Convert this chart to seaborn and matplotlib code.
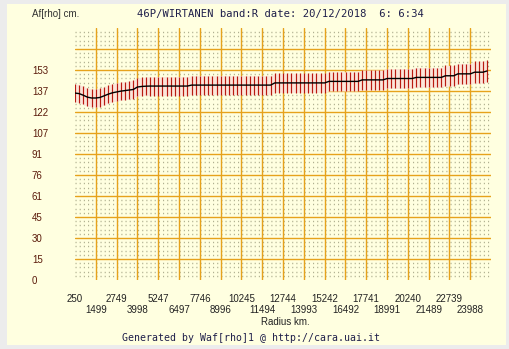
import numpy as np
import matplotlib
matplotlib.use('Agg')
import matplotlib.pyplot as plt
import seaborn as sns
from matplotlib.patches import Rectangle

# profilo Af[rho] (100 punti, passo 250 km)
radius = np.arange(250, 25001, 250)
af_rho = [136.2, 135.8, 134.6, 133.2, 132.6, 132.6, 133.0, 134.2, 135.4, 136.4,
          137.0, 137.6, 138.0, 138.4, 138.8, 140.6, 141.0, 141.2, 141.3, 141.3,
          141.3, 141.3, 141.3, 141.3, 141.3, 141.3, 141.3, 141.3, 142.0, 142.0,
          142.0, 142.0, 142.0, 142.0, 142.0, 142.0, 142.0, 142.0, 142.0, 142.0,
          142.0, 142.0, 142.0, 142.0, 142.0, 142.0, 142.0, 142.0, 143.6, 143.6,
          143.6, 143.6, 143.6, 143.6, 143.6, 143.6, 143.6, 143.6, 143.6, 143.6,
          143.6, 144.7, 144.7, 144.7, 144.7, 144.7, 144.7, 144.7, 144.7, 145.8,
          145.8, 145.8, 145.8, 145.8, 145.8, 146.8, 146.8, 146.8, 146.8, 146.8,
          146.8, 146.8, 147.6, 147.6, 147.6, 147.6, 147.6, 147.6, 147.6, 148.8,
          148.8, 148.8, 150.2, 150.2, 150.2, 150.2, 151.4, 151.4, 151.4, 152.3]
af_err = [6.6, 6.6, 6.6, 6.6, 6.6, 6.6, 6.6, 6.6, 6.6, 6.6,
          6.6, 6.6, 6.6, 6.6, 6.6, 6.6, 6.6, 6.6, 6.9, 6.9,
          6.9, 6.9, 6.9, 6.9, 6.9, 6.9, 6.9, 6.9, 6.9, 6.9,
          6.9, 6.9, 6.9, 6.9, 6.9, 6.9, 6.9, 6.9, 6.9, 6.9,
          6.9, 6.9, 6.9, 6.9, 6.9, 6.9, 6.9, 6.9, 7.0, 7.0,
          7.0, 7.0, 7.0, 7.0, 7.0, 7.0, 7.0, 7.0, 7.0, 7.0,
          7.0, 7.0, 7.0, 7.0, 7.0, 7.0, 7.0, 7.0, 7.0, 7.2,
          7.2, 7.2, 7.2, 7.2, 7.2, 7.2, 7.2, 7.2, 7.2, 7.2,
          7.2, 7.2, 7.2, 7.2, 7.2, 7.2, 7.2, 7.2, 7.2, 7.5,
          7.5, 7.5, 7.5, 7.5, 7.5, 7.5, 8.0, 8.0, 8.0, 8.0]

x_ticks = [250, 1499, 2749, 3998, 5247, 6497, 7746, 8996, 10245, 11494,
           12744, 13993, 15242, 16492, 17741, 18991, 20240, 21489, 22739, 23988]
y_ticks = [0, 15.3, 30.6, 45.9, 61.2, 76.5, 91.8, 107.1, 122.4, 137.7, 153.0, 168.3]
y_labels = ['0', '15', '30', '45', '61', '76', '91', '107', '122', '137', '153', '']

sns.set_style('white')
plt.rcParams['font.family'] = ['Liberation Sans', 'DejaVu Sans']

yellow = '#FFFFE0'
gold = '#E6A21C'

fig = plt.figure(figsize=(5.09, 3.49), dpi=100, facecolor='#ECECEC')
fig.patches.append(Rectangle((7 / 509, 4 / 349), 499 / 509, 341 / 349,
                             transform=fig.transFigure, facecolor=yellow,
                             edgecolor='none', zorder=-10))
ax = fig.add_axes([75 / 509, 69 / 349, 416 / 509, 252 / 349], facecolor=yellow)

# griglia
for x in x_ticks[1:]:
    ax.axvline(x, color=gold, lw=1.0, zorder=1)
for y in y_ticks[1:]:
    ax.axhline(y, color=gold, lw=1.0, zorder=1)
ax.set_yticks(np.arange(0, 183.6, 3.06), minor=True)
ax.yaxis.grid(True, which='minor', color='#B0B090', lw=1.0, linestyle=(0, (0.8, 2.2)), zorder=0)

# barre d'errore + profilo
lo = np.array(af_rho) - np.array(af_err)
hi = np.array(af_rho) + np.array(af_err)
ax.fill_between(radius, lo, hi, color='#FCE6DA', lw=0, zorder=2)
ax.vlines(radius, lo, hi, color='#B81A10', lw=0.85, zorder=3)
sns.lineplot(x=radius, y=af_rho, color='black', lw=1.0, ax=ax, zorder=4)

ax.set_xlim(250, 25237)
ax.set_ylim(0, 183.6)
for s in ax.spines.values():
    s.set_visible(False)

# etichette x su due righe: pari sui tick maggiori, dispari sui minori
ax.set_xticks(x_ticks[0::2], [str(v) for v in x_ticks[0::2]])
ax.set_xticks(x_ticks[1::2], [str(v) for v in x_ticks[1::2]], minor=True)
ax.set_yticks(y_ticks, y_labels)
ax.tick_params(axis='both', which='both', length=0, labelsize=7)
ax.tick_params(axis='x', which='major', pad=10, colors='#222222')
ax.tick_params(axis='x', which='minor', pad=18.2, colors='#222222')
ax.tick_params(axis='y', pad=31, colors='#5A1A0A')
for lab in ax.get_yticklabels():
    lab.set_ha('left')

mono = ['DejaVu Sans Mono', 'Liberation Mono']
fig.text(32 / 509, 1 - 14 / 349, 'Af[rho] cm.', fontsize=7, va='center', ha='left', color='#333333')
fig.text(137 / 509, 1 - 14 / 349, '46P/WIRTANEN band:R date: 20/12/2018  6: 6:34',
         fontsize=7.6, family=mono, va='center', ha='left', color='#1E1E4A')
fig.text(285 / 509, 1 - 322 / 349, 'Radius km.', fontsize=7, va='center', ha='center', color='#222222')
fig.text(251 / 509, 1 - 338 / 349, 'Generated by Waf[rho]1 @ http://cara.uai.it',
         fontsize=7.1, family=mono, va='center', ha='center', color='#1E1E4A')

fig.savefig('out.png', dpi=100, facecolor=fig.get_facecolor())
